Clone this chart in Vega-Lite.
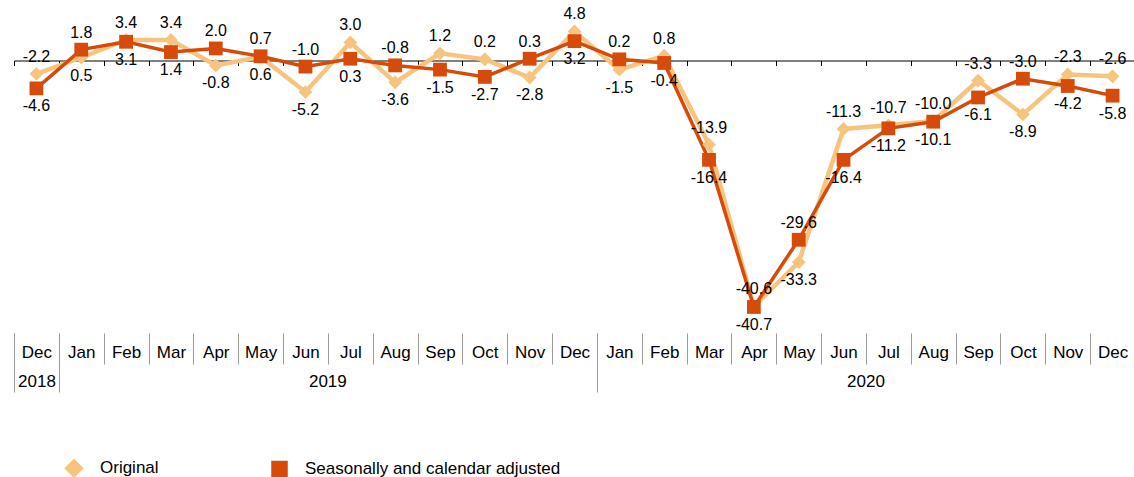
{
  "$schema": "https://vega.github.io/schema/vega-lite/v6.json",
  "width": 1121,
  "height": 333,
  "padding": {"left": 13, "top": 0, "right": 0, "bottom": 0},
  "autosize": {"type": "pad"},
  "background": "white",
  "config": {
    "view": {"stroke": null},
    "font": "Liberation Sans",
    "locale": {"number": {"decimal": ".", "thousands": ",", "grouping": [3], "currency": ["$", ""], "minus": "-"}}
  },
  "data": {"values": [
    {"t": "2018-12", "series": "Original", "value": -2.2},
    {"t": "2019-01", "series": "Original", "value": 0.5},
    {"t": "2019-02", "series": "Original", "value": 3.4},
    {"t": "2019-03", "series": "Original", "value": 3.4},
    {"t": "2019-04", "series": "Original", "value": -0.8},
    {"t": "2019-05", "series": "Original", "value": 0.6},
    {"t": "2019-06", "series": "Original", "value": -5.2},
    {"t": "2019-07", "series": "Original", "value": 3.0},
    {"t": "2019-08", "series": "Original", "value": -3.6},
    {"t": "2019-09", "series": "Original", "value": 1.2},
    {"t": "2019-10", "series": "Original", "value": 0.2},
    {"t": "2019-11", "series": "Original", "value": -2.8},
    {"t": "2019-12", "series": "Original", "value": 4.8},
    {"t": "2020-01", "series": "Original", "value": -1.5},
    {"t": "2020-02", "series": "Original", "value": 0.8},
    {"t": "2020-03", "series": "Original", "value": -13.9},
    {"t": "2020-04", "series": "Original", "value": -40.6},
    {"t": "2020-05", "series": "Original", "value": -33.3},
    {"t": "2020-06", "series": "Original", "value": -11.3},
    {"t": "2020-07", "series": "Original", "value": -10.7},
    {"t": "2020-08", "series": "Original", "value": -10.0},
    {"t": "2020-09", "series": "Original", "value": -3.3},
    {"t": "2020-10", "series": "Original", "value": -8.9},
    {"t": "2020-11", "series": "Original", "value": -2.3},
    {"t": "2020-12", "series": "Original", "value": -2.6},
    {"t": "2018-12", "series": "Seasonally and calendar adjusted", "value": -4.6},
    {"t": "2019-01", "series": "Seasonally and calendar adjusted", "value": 1.8},
    {"t": "2019-02", "series": "Seasonally and calendar adjusted", "value": 3.1},
    {"t": "2019-03", "series": "Seasonally and calendar adjusted", "value": 1.4},
    {"t": "2019-04", "series": "Seasonally and calendar adjusted", "value": 2.0},
    {"t": "2019-05", "series": "Seasonally and calendar adjusted", "value": 0.7},
    {"t": "2019-06", "series": "Seasonally and calendar adjusted", "value": -1.0},
    {"t": "2019-07", "series": "Seasonally and calendar adjusted", "value": 0.3},
    {"t": "2019-08", "series": "Seasonally and calendar adjusted", "value": -0.8},
    {"t": "2019-09", "series": "Seasonally and calendar adjusted", "value": -1.5},
    {"t": "2019-10", "series": "Seasonally and calendar adjusted", "value": -2.7},
    {"t": "2019-11", "series": "Seasonally and calendar adjusted", "value": 0.3},
    {"t": "2019-12", "series": "Seasonally and calendar adjusted", "value": 3.2},
    {"t": "2020-01", "series": "Seasonally and calendar adjusted", "value": 0.2},
    {"t": "2020-02", "series": "Seasonally and calendar adjusted", "value": -0.4},
    {"t": "2020-03", "series": "Seasonally and calendar adjusted", "value": -16.4},
    {"t": "2020-04", "series": "Seasonally and calendar adjusted", "value": -40.7},
    {"t": "2020-05", "series": "Seasonally and calendar adjusted", "value": -29.6},
    {"t": "2020-06", "series": "Seasonally and calendar adjusted", "value": -16.4},
    {"t": "2020-07", "series": "Seasonally and calendar adjusted", "value": -11.2},
    {"t": "2020-08", "series": "Seasonally and calendar adjusted", "value": -10.1},
    {"t": "2020-09", "series": "Seasonally and calendar adjusted", "value": -6.1},
    {"t": "2020-10", "series": "Seasonally and calendar adjusted", "value": -3.0},
    {"t": "2020-11", "series": "Seasonally and calendar adjusted", "value": -4.2},
    {"t": "2020-12", "series": "Seasonally and calendar adjusted", "value": -5.8}
  ]},
  "resolve": {"axis": {"x": "independent"}},
  "layer": [
    {
      "mark": {"type": "line", "strokeJoin": "miter"},
      "encoding": {
        "x": {"field": "t", "type": "ordinal", "scale": {"type": "band", "paddingInner": 0, "paddingOuter": 0},
          "axis": {"orient": "bottom", "title": null, "domain": false, "tickBand": "extent", "tickSize": 31, "tickColor": "#9a9a9a", "tickWidth": 1,
            "labelAngle": 0, "labelPadding": -20, "labelFontSize": 17, "labelColor": "#000000", "labelFont": "Liberation Sans", "labelOverlap": false, "labelFlush": false,
            "labelExpr": "isString(datum.value) ? ['Jan','Feb','Mar','Apr','May','Jun','Jul','Aug','Sep','Oct','Nov','Dec'][toNumber(substring(datum.value,5,7))-1] : ''"}},
        "y": {"field": "value", "type": "quantitative", "scale": {"domain": [-45, 10], "nice": false, "zero": false}, "axis": null},
        "color": {"field": "series", "type": "nominal", "scale": {"domain": ["Original", "Seasonally and calendar adjusted"], "range": ["#F7C480", "#D64A0A"]},
          "legend": {"orient": "bottom", "direction": "horizontal", "title": null, "symbolSize": 170, "labelFontSize": 17, "labelColor": "#000000", "labelFont": "Liberation Sans", "labelLimit": 0, "labelOffset": 17, "columnPadding": 106, "padding": 51, "offset": 15}},
        "shape": {"field": "series", "type": "nominal", "scale": {"domain": ["Original", "Seasonally and calendar adjusted"], "range": ["diamond", "square"]}},
        "strokeWidth": {"field": "series", "type": "nominal", "scale": {"domain": ["Original", "Seasonally and calendar adjusted"], "range": [4.5, 3.5]}, "legend": null}
      }
    },
    {
      "mark": {"type": "point", "filled": true, "size": 190, "opacity": 1},
      "encoding": {
        "x": {"field": "t", "type": "ordinal",
          "axis": {"orient": "bottom", "title": null, "domain": false, "ticks": true, "tickSize": 59, "tickOpacity": 0,
            "values": ["2019-06", "2020-06"], "labelOffset": 22.4,
            "labelAngle": 0, "labelPadding": -19, "labelFontSize": 17, "labelColor": "#000000", "labelFont": "Liberation Sans", "labelOverlap": false, "labelFlush": false,
            "labelExpr": "datum.value === '2019-06' ? '2019' : datum.value === '2020-06' ? '2020' : ''"}},
        "y": {"field": "value", "type": "quantitative", "axis": null},
        "color": {"field": "series", "type": "nominal"},
        "shape": {"field": "series", "type": "nominal"}
      }
    },
    {
      "transform": [
        {"joinaggregate": [{"op": "max", "field": "value", "as": "top"}], "groupby": ["t"]},
        {"filter": "datum.value === datum.top"}
      ],
      "mark": {"type": "text", "baseline": "middle", "dy": -17, "fontSize": 16, "color": "#000000", "font": "Liberation Sans"},
      "encoding": {
        "x": {"field": "t", "type": "ordinal",
          "axis": {"orient": "bottom", "title": null, "domain": false, "tickBand": "extent", "tickSize": 59, "tickColor": "#9a9a9a", "tickWidth": 1,
            "values": ["2018-12", "2019-12", "2020-12"],
            "labelAngle": 0, "labelPadding": -19, "labelFontSize": 17, "labelColor": "#000000", "labelFont": "Liberation Sans", "labelOverlap": false, "labelFlush": false,
            "labelExpr": "datum.value === '2018-12' ? '2018' : ''"}},
        "y": {"field": "value", "type": "quantitative", "axis": null},
        "text": {"field": "value", "type": "quantitative", "format": ".1f"}
      }
    },
    {
      "transform": [
        {"joinaggregate": [{"op": "max", "field": "value", "as": "top"}], "groupby": ["t"]},
        {"filter": "datum.value < datum.top"}
      ],
      "mark": {"type": "text", "baseline": "middle", "dy": 18, "fontSize": 16, "color": "#000000", "font": "Liberation Sans"},
      "encoding": {
        "x": {"field": "t", "type": "ordinal",
          "axis": {"orient": "bottom", "offset": -272.5, "title": null, "domain": true, "domainColor": "#000000", "domainWidth": 1, "tickBand": "extent", "tickSize": 5, "tickColor": "#000000", "tickWidth": 1, "labels": false}},
        "y": {"field": "value", "type": "quantitative", "axis": null},
        "text": {"field": "value", "type": "quantitative", "format": ".1f"}
      }
    }
  ]
}
